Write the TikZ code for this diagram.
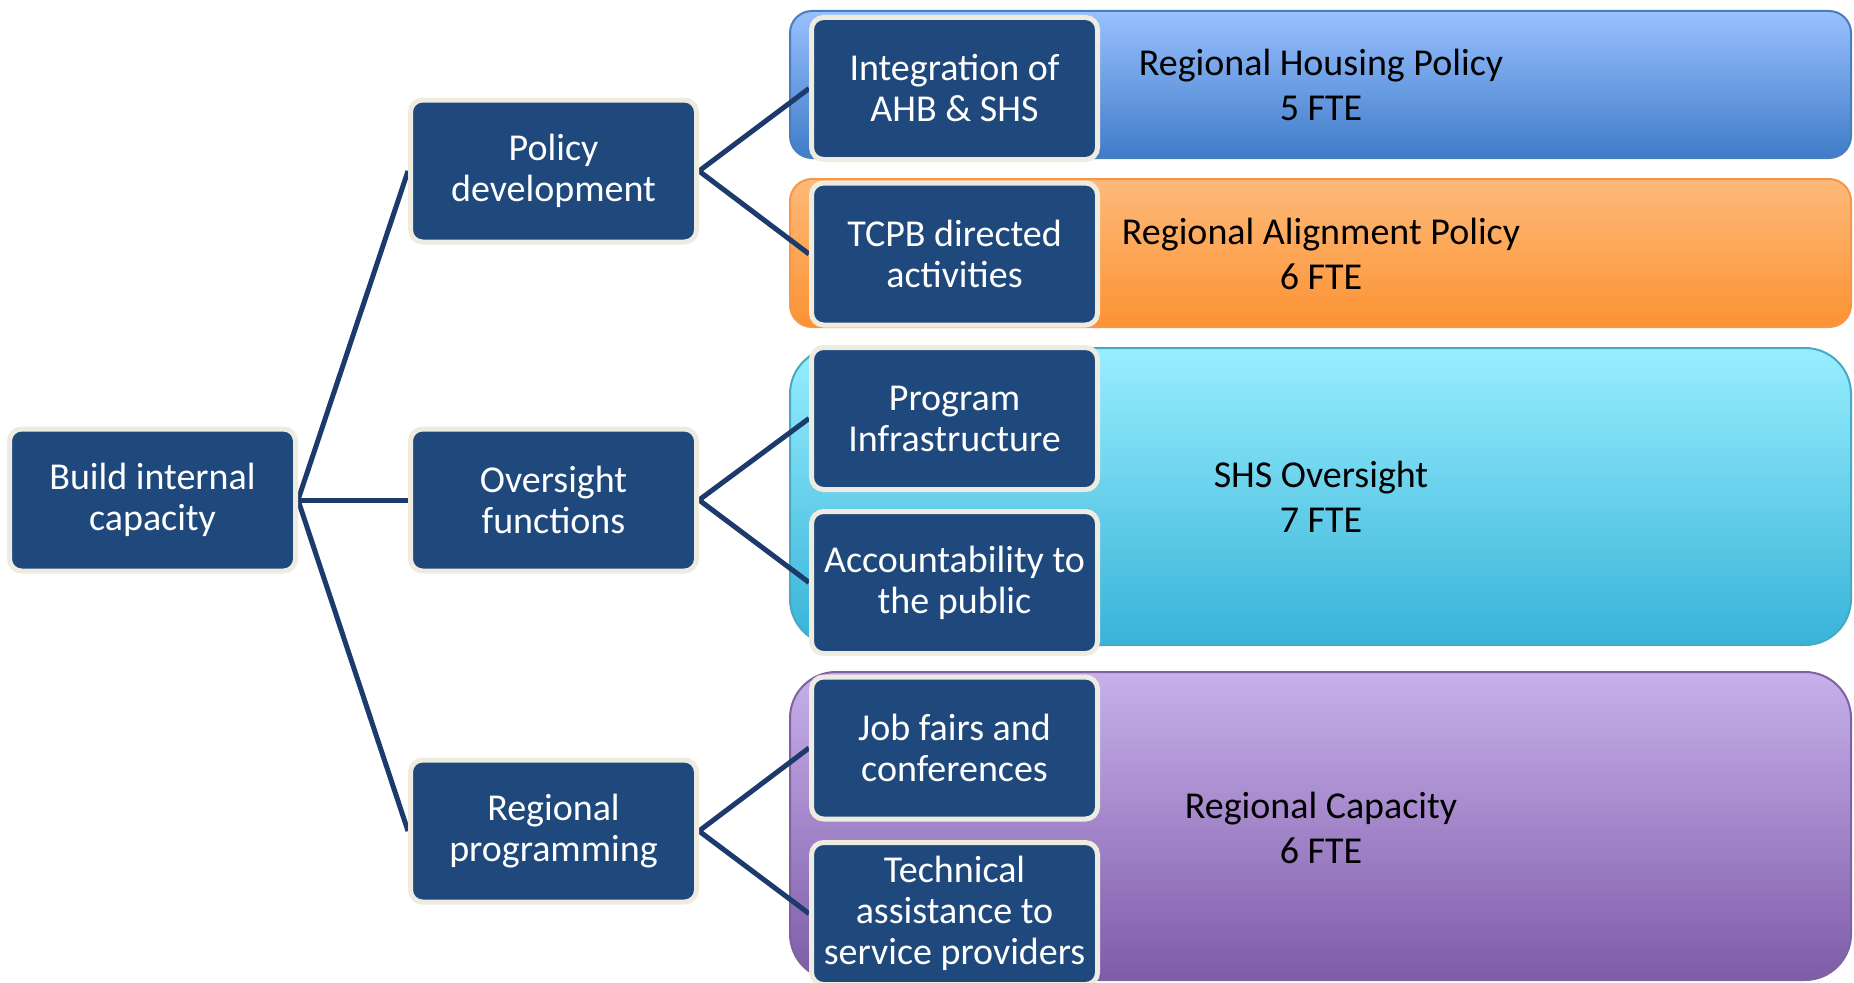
\documentclass[tikz,border=0pt]{standalone}
\usepackage{fontspec}
\setmainfont{Carlito}
\usetikzlibrary{backgrounds}
\definecolor{navy}{HTML}{1F497D}
\definecolor{cream}{HTML}{EEECE1}
\definecolor{linkc}{HTML}{1C3A6B}
\definecolor{bluet}{HTML}{99C0FF}
\definecolor{blueb}{HTML}{3F7CC8}
\definecolor{blueo}{HTML}{4A7EBB}
\definecolor{oranget}{HTML}{FDBA7A}
\definecolor{orangeb}{HTML}{FC9232}
\definecolor{orangeo}{HTML}{F79646}
\definecolor{cyant}{HTML}{98EEFF}
\definecolor{cyanb}{HTML}{38B3D8}
\definecolor{cyano}{HTML}{46AAC5}
\definecolor{purplet}{HTML}{C7B0EB}
\definecolor{purpleb}{HTML}{7E5CA8}
\definecolor{purpleo}{HTML}{7F63A1}
\pgfdeclarelayer{bandlayer}
\pgfdeclarelayer{linklayer}
\pgfsetlayers{bandlayer,linklayer,main}
\begin{document}
\begin{tikzpicture}[x=1pt,y=-1pt,
  box/.style={draw=cream, line width=5pt, fill=navy, rounded corners=12pt,
    minimum width=286pt, minimum height=142pt, inner sep=0pt, text=white,
    align=center, font=\fontsize{38}{41}\selectfont},
  bandtext/.style={anchor=base, align=center, font=\fontsize{38}{45}\selectfont, text=black},
  link/.style={draw=linkc, line width=5pt},
  band/.style={line width=2pt}]
\useasboundingbox (0,0) rectangle (1854,982);

% nodes
\node[box] (root) at (152.5,500) {Build internal\\capacity};
\node[box] (pol) at (553.5,171) {Policy\\development};
\node[box] (ovs) at (553.5,500) {Oversight\\functions};
\node[box] (reg) at (553.5,831) {Regional\\programming};
\node[box] (l1) at (954.5,88.5) {Integration of\\AHB \& SHS};
\node[box] (l2) at (954.5,254) {TCPB directed\\activities};
\node[box] (l3) at (954.5,418.5) {Program\\Infrastructure};
\node[box] (l4) at (954.5,582.5) {Accountability to\\the public};
\node[box] (l5) at (954.5,748) {Job fairs and\\conferences};
\node[box] (l6) at (954.5,913.5) {Technical\\assistance to\\service providers};

% bands
\begin{pgfonlayer}{bandlayer}
\shade[band, draw=blueo, top color=bluet, bottom color=blueb, rounded corners=22pt] (790,11) rectangle (1851,158);
\shade[band, draw=orangeo, top color=oranget, bottom color=orangeb, rounded corners=22pt] (790,179) rectangle (1851,327);
\shade[band, draw=cyano, top color=cyant, bottom color=cyanb, rounded corners=46pt] (790,348) rectangle (1851,645);
\shade[band, draw=purpleo, top color=purplet, bottom color=purpleb, rounded corners=46pt] (790,672) rectangle (1851,980);
\end{pgfonlayer}

\node[bandtext] (t1) at (1321,120) {Regional Housing Policy\\5 FTE};
\node[bandtext] (t2) at (1321,289) {Regional Alignment Policy\\6 FTE};
\node[bandtext] (t3) at (1321,532) {SHS Oversight\\7 FTE};
\node[bandtext] (t4) at (1321,863) {Regional Capacity\\6 FTE};

% connectors
\begin{pgfonlayer}{linklayer}
\draw[link] (root.east) -- (pol.west);
\draw[link] (root.east) -- (ovs.west);
\draw[link] (root.east) -- (reg.west);
\draw[link] (pol.east) -- (l1.west);
\draw[link] (pol.east) -- (l2.west);
\draw[link] (ovs.east) -- (l3.west);
\draw[link] (ovs.east) -- (l4.west);
\draw[link] (reg.east) -- (l5.west);
\draw[link] (reg.east) -- (l6.west);
\end{pgfonlayer}
\end{tikzpicture}
\end{document}
